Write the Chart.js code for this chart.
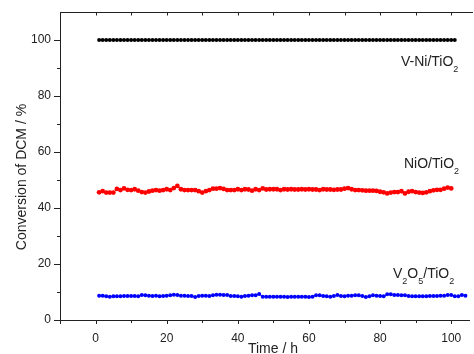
<!DOCTYPE html>
<html>
<head>
<meta charset="utf-8">
<title>Conversion of DCM</title>
<script src="https://cdn.jsdelivr.net/npm/chart.js@4.4.1/dist/chart.umd.min.js"></script>
<style>
  html, body { margin: 0; padding: 0; background: #fff; }
  #wrap { width: 474px; height: 354px; }
</style>
</head>
<body>
<div id="wrap"><canvas id="dcmChart" width="474" height="354"></canvas></div>
<script>
// time on stream, h
const hours = [
  1, 2, 3, 4, 5, 6, 7, 8, 9, 10, 11, 12, 13, 14, 15, 16, 17, 18, 19, 20,
  21, 22, 23, 24, 25, 26, 27, 28, 29, 30, 31, 32, 33, 34, 35, 36, 37, 38, 39, 40,
  41, 42, 43, 44, 45, 46, 47, 48, 49, 50, 51, 52, 53, 54, 55, 56, 57, 58, 59, 60,
  61, 62, 63, 64, 65, 66, 67, 68, 69, 70, 71, 72, 73, 74, 75, 76, 77, 78, 79, 80,
  81, 82, 83, 84, 85, 86, 87, 88, 89, 90, 91, 92, 93, 94, 95, 96, 97, 98, 99, 100,
  101, 102, 103, 104
];

// DCM conversion, %
const vniConversion = [
  100, 100, 100, 100, 100, 100, 100, 100, 100, 100, 100, 100, 100, 100, 100, 100, 100, 100, 100, 100,
  100, 100, 100, 100, 100, 100, 100, 100, 100, 100, 100, 100, 100, 100, 100, 100, 100, 100, 100, 100,
  100, 100, 100, 100, 100, 100, 100, 100, 100, 100, 100, 100, 100, 100, 100, 100, 100, 100, 100, 100,
  100, 100, 100, 100, 100, 100, 100, 100, 100, 100, 100, 100, 100, 100, 100, 100, 100, 100, 100, 100,
  100, 100, 100, 100, 100, 100, 100, 100, 100, 100, 100, 100, 100, 100, 100, 100, 100, 100, 100, 100,
  100
];

const nioConversion = [
  45.6, 46.0, 45.5, 45.5, 45.5, 46.8, 46.4, 47.0, 46.5, 46.4, 46.7, 46.2, 45.7, 45.5, 45.9, 46.2, 46.4, 46.2, 46.4, 46.7,
  46.4, 47.1, 47.9, 46.7, 46.4, 46.4, 46.4, 46.4, 46.0, 45.5, 46.0, 46.4, 46.9, 46.9, 47.1, 46.8, 46.4, 46.4, 46.4, 46.7,
  46.4, 46.7, 46.6, 46.2, 46.7, 46.4, 47.0, 46.6, 46.7, 46.7, 46.7, 46.4, 46.7, 46.6, 46.7, 46.6, 46.6, 46.7, 46.6, 46.7,
  46.6, 46.6, 46.4, 46.7, 46.6, 46.6, 46.5, 46.6, 46.6, 46.9, 47.1, 46.7, 46.4, 46.4, 46.3, 46.2, 46.2, 46.2, 46.1, 45.8,
  45.6, 45.2, 45.5, 45.7, 45.7, 46.0, 45.2, 45.8, 46.0, 45.7, 45.5, 45.4, 45.6, 46.0, 46.3, 46.5, 46.5, 46.9, 47.3, 47.0
];

const v2o5Conversion = [
  8.7, 8.7, 8.45, 8.3, 8.45, 8.45, 8.45, 8.55, 8.55, 8.55, 8.55, 8.45,
  8.9, 8.8, 8.7, 8.55, 8.7, 8.45, 8.55, 8.7, 8.8, 9.05, 8.9, 8.7, 8.7, 8.55, 8.55,
  8.2, 8.55, 8.7, 8.7, 8.55, 8.8, 9.05, 9.05, 8.9, 8.9, 8.55, 8.55, 8.45, 8.3, 8.55, 8.7, 8.8, 8.8, 9.3, 8.3,
  8.3, 8.3, 8.3, 8.3, 8.3, 8.3, 8.2, 8.3, 8.3, 8.3, 8.3, 8.3, 8.2, 8.3,
  8.8, 8.8, 8.55, 8.45, 8.3, 8.55, 8.9, 8.55, 8.45, 8.7, 8.7, 8.8, 8.8, 8.55, 8.2, 8.45, 8.8, 8.7, 8.55, 8.45,
  9.2, 9.2, 8.9, 8.9, 8.8, 8.8, 8.55, 8.45, 8.45, 8.45, 8.45, 8.45, 8.55, 8.55, 8.55, 8.7, 8.7, 8.9, 8.9, 8.45, 8.45, 8.9, 8.7
];

const xTickLabels = [0, 20, 40, 60, 80, 100];
const yTickLabels = [0, 20, 40, 60, 80, 100];

const FONT = '"Liberation Sans", Arial, sans-serif';
const INK = '#222';

const toPoints = (values) => values.map((v, i) => ({ x: hours[i], y: v }));

const series = (label, values, color, radius) => ({
    label,
    data: toPoints(values),
    showLine: true,
    borderColor: color,
    borderWidth: 1,
    backgroundColor: color,
    pointRadius: radius,
    pointBorderWidth: 0,
    pointHoverRadius: radius
});

// draws formula pieces: [text, isSubscript]
const drawFormula = (ctx, parts, left, baseline) => {
    let x = left;
    parts.forEach(([text, sub]) => {
        ctx.font = sub ? `9px ${FONT}` : `14px ${FONT}`;
        ctx.fillText(text, x, sub ? baseline + 5.5 : baseline);
        x += ctx.measureText(text).width;
    });
};

const axisDecor = {
    id: 'axisDecor',
    afterDraw(chart) {
        const { ctx, chartArea: a, scales: { x, y } } = chart;
        ctx.save();
        ctx.strokeStyle = INK;
        ctx.lineWidth = 1;
        ctx.beginPath();

        // top frame line with inward ticks
        const top = Math.round(a.top) + 0.5;
        ctx.moveTo(a.left, top);
        ctx.lineTo(a.right + 4, top);
        for (let t = 0; t <= 100; t += 10) {
            const px = Math.round(x.getPixelForValue(t)) + 0.5;
            ctx.moveTo(px, top);
            ctx.lineTo(px, top + 3);
        }

        // bottom ticks, outward
        const bottom = Math.round(a.bottom);
        for (let t = -10; t <= 100; t += 10) {
            const px = Math.round(x.getPixelForValue(t)) + 0.5;
            const len = xTickLabels.includes(t) || t === -10 ? 4 : 3;
            ctx.moveTo(px, bottom);
            ctx.lineTo(px, bottom + len);
        }

        // left ticks, outward
        const left = Math.round(a.left);
        for (let v = 0; v <= 100; v += 10) {
            const py = Math.round(y.getPixelForValue(v)) + 0.5;
            const len = yTickLabels.includes(v) ? 6 : 3;
            ctx.moveTo(left, py);
            ctx.lineTo(left - len, py);
        }
        ctx.stroke();

        // axis titles
        ctx.fillStyle = INK;
        ctx.font = `14px ${FONT}`;
        ctx.textAlign = 'center';
        ctx.textBaseline = 'alphabetic';
        ctx.fillText('Time / h', 273, 353);
        ctx.save();
        ctx.translate(25.5, 177);
        ctx.rotate(-Math.PI / 2);
        ctx.fillText('Conversion of DCM / %', 0, 0);
        ctx.restore();

        // catalyst labels
        ctx.textAlign = 'left';
        drawFormula(ctx, [['V-Ni/TiO', false], ['2', true]], 401, 66);
        drawFormula(ctx, [['NiO/TiO', false], ['2', true]], 404, 168);
        drawFormula(ctx, [['V', false], ['2', true], ['O', false], ['5', true], ['/TiO', false], ['2', true]], 393, 278);
        ctx.restore();
    }
};

new Chart(document.getElementById('dcmChart'), {
    type: 'scatter',
    data: {
        datasets: [
            series('V-Ni/TiO2', vniConversion, '#000000', 2),
            series('NiO/TiO2', nioConversion, '#ff0000', 2.4),
            series('V2O5/TiO2', v2o5Conversion, '#0000ff', 2)
        ]
    },
    options: {
        responsive: false,
        animation: false,
        devicePixelRatio: 1,
        layout: { padding: { top: 12, right: 5, left: 0, bottom: 0 } },
        plugins: {
            legend: { display: false },
            tooltip: { enabled: false }
        },
        scales: {
            x: {
                type: 'linear',
                min: -10,
                max: 105,
                afterBuildTicks: (scale) => {
                    scale.ticks = xTickLabels.map((v) => ({ value: v }));
                },
                afterFit: (scale) => {
                    scale.height = 34;
                    scale.paddingLeft = 0;
                    scale.paddingRight = 0;
                },
                grid: { display: false, drawTicks: false },
                border: { display: true, color: INK, width: 1 },
                ticks: {
                    padding: 11,
                    maxRotation: 0,
                    autoSkip: false,
                    color: INK,
                    font: { family: FONT, size: 12 }
                }
            },
            y: {
                type: 'linear',
                min: 0,
                max: 110,
                afterBuildTicks: (scale) => {
                    scale.ticks = yTickLabels.map((v) => ({ value: v }));
                },
                afterFit: (scale) => {
                    scale.width = 60;
                    scale.paddingTop = 0;
                    scale.paddingBottom = 0;
                },
                grid: { display: false, drawTicks: false },
                border: { display: true, color: INK, width: 1 },
                ticks: {
                    padding: 9,
                    autoSkip: false,
                    color: INK,
                    font: { family: FONT, size: 12 }
                }
            }
        }
    },
    plugins: [axisDecor]
});
</script>
</body>
</html>
